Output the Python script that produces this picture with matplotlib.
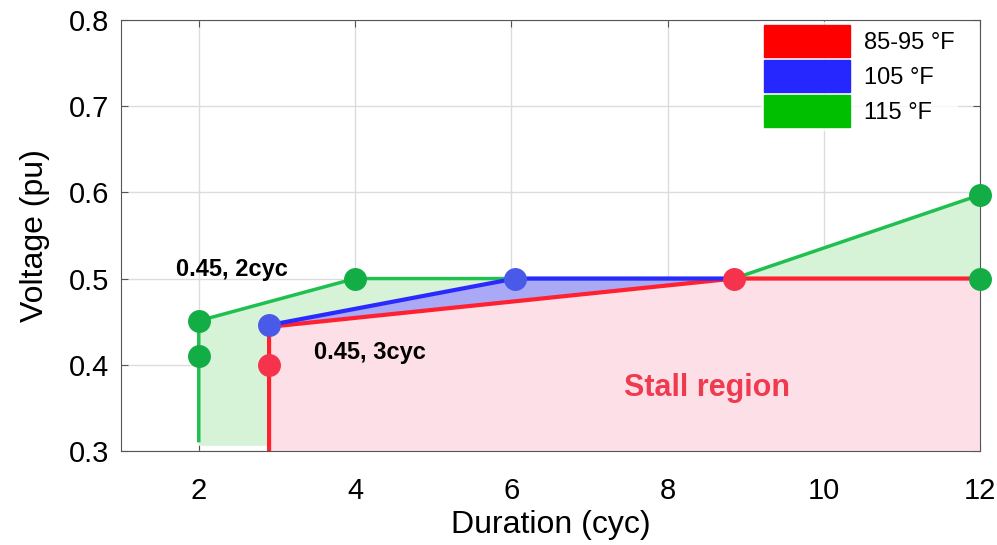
import matplotlib.pyplot as plt
import matplotlib.patches as mpatches
import numpy as np

plt.rcParams['font.family'] = ['Liberation Sans', 'DejaVu Sans']

# 85-95 F curve
red_x = [2.9, 2.9, 8.85, 12]
red_y = [0.3, 0.444, 0.5, 0.5]
red_dot_x = [2.9, 8.85]
red_dot_y = [0.40, 0.5]

# 105 F curve
blue_x = [2.9, 6.05, 8.85]
blue_y = [0.446, 0.5, 0.5]
blue_dot_x = [2.9, 6.05]
blue_dot_y = [0.446, 0.5]

# 115 F curve
green_x = [2.0, 2.0, 4.0, 8.85, 12]
green_y = [0.312, 0.451, 0.5, 0.5, 0.597]
green_dot_x = [2.0, 2.0, 4.0, 12, 12]
green_dot_y = [0.41, 0.451, 0.5, 0.597, 0.5]

legend_labels = ['85-95 °F', '105 °F', '115 °F']
xticks = [2, 4, 6, 8, 10, 12]
yticks = [0.3, 0.4, 0.5, 0.6, 0.7, 0.8]

fig = plt.figure(figsize=(9.97, 5.45), dpi=100)
ax = fig.add_axes([0.121, 0.1725, 0.862, 0.791])

# fills
gfx = [2.0, 2.0, 4.0, 8.85, 12, 12, 8.85, 2.9, 2.9]
gfy = [0.306, 0.451, 0.5, 0.5, 0.597, 0.5, 0.5, 0.444, 0.306]
ax.fill(gfx, gfy, color='#d6f3d8', lw=0, zorder=1)
ax.fill([2.9, 2.9, 8.85, 12, 12], [0.3, 0.444, 0.5, 0.5, 0.3],
        color='#fde0e7', lw=0, zorder=1)
ax.fill([2.9, 6.05, 8.85, 2.9], [0.446, 0.5, 0.5, 0.444],
        color='#a9a9f6', lw=0, zorder=1)

ax.plot(green_x, green_y, color='#1fbf50', lw=2.5, zorder=3)
ax.plot(red_x, red_y, color='#ff2030', lw=3, zorder=4)
ax.plot(blue_x, blue_y, color='#2a2aff', lw=3, zorder=5)

ax.scatter(green_dot_x, green_dot_y, s=240, color='#12ad45', zorder=6, clip_on=False)
ax.scatter(red_dot_x, red_dot_y, s=240, color='#f5334d', zorder=6, clip_on=False)
ax.scatter(blue_dot_x, blue_dot_y, s=240, color='#4a5ae8', zorder=7, clip_on=False)

ax.text(1.71, 0.511, '0.45, 2cyc', fontsize=17, fontweight='bold', ha='left', va='center')
ax.text(3.47, 0.414, '0.45, 3cyc', fontsize=17, fontweight='bold', ha='left', va='center')
ax.text(8.51, 0.373, 'Stall region', fontsize=22, fontweight='bold', color='#f03a50',
        ha='center', va='center')

ax.set_xlim(1, 12)
ax.set_ylim(0.3, 0.8)
ax.set_xticks(xticks)
ax.set_yticks(yticks)
ax.set_yticklabels(['%.1f' % v for v in yticks])
ax.tick_params(direction='in', top=True, right=True, labelsize=21, length=5,
               color='#555555')
ax.tick_params(axis='x', pad=19)
ax.tick_params(axis='y', pad=8)
ax.grid(True, color='#dcdcdc', lw=1)
ax.set_axisbelow(True)
for s in ax.spines.values():
    s.set_color('#555555')
ax.set_xlabel('Duration (cyc)', fontsize=23, labelpad=3)
ax.set_ylabel('Voltage (pu)', fontsize=23, labelpad=14)

handles = [mpatches.Patch(color=c) for c in ['#ff0000', '#2626ff', '#00bf00']]
leg = ax.legend(handles, legend_labels, loc='upper right', bbox_to_anchor=(0.976, 1.0),
                fontsize=17, handlelength=3.65, handleheight=1.75, labelspacing=0.1,
                handletextpad=0.6, borderpad=0.1, borderaxespad=0.1,
                frameon=True, fancybox=False)
leg.get_frame().set_edgecolor('white')
leg.set_zorder(10)

fig.savefig('out.png', dpi=100)
